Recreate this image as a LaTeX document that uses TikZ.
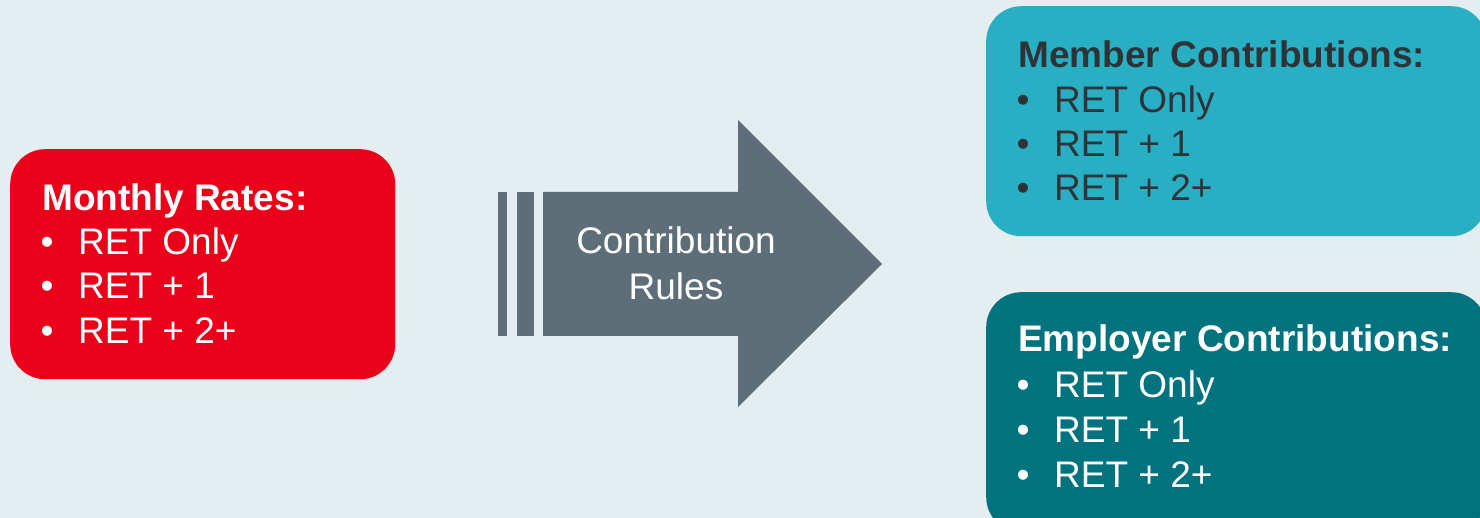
\documentclass[tikz,border=0pt]{standalone}
\usepackage{fontspec}
\setmainfont{Liberation Sans}
\definecolor{bg}{HTML}{E4EDEF}
\definecolor{ratered}{HTML}{EB001A}
\definecolor{slate}{HTML}{5E6E78}
\definecolor{memberteal}{HTML}{29AFC3}
\definecolor{deepteal}{HTML}{00737F}
\definecolor{ink}{HTML}{2E3338}
\begin{document}
\begin{tikzpicture}[x=1pt,y=-1pt,
  panel/.style={rectangle, rounded corners=35pt, draw=none, inner sep=0pt, anchor=north west},
  txt/.style={inner sep=0pt, font=\fontsize{37}{44}\selectfont},
  head/.style={txt, anchor=base west, font=\fontsize{37}{44}\selectfont\bfseries},
  item/.style={txt, anchor=base west},
  dot/.style={txt, anchor=base}]
% canvas
\fill[bg] (0,0) rectangle (1480,518);
\useasboundingbox (0,0) rectangle (1480,518);

% left panel: monthly rates
\node[panel, fill=ratered, minimum width=385pt, minimum height=230pt] (rates) at (10,149) {};
\node[head, white] (ratesH) at (42,211) {Monthly Rates:};
\foreach \y/\t [count=\i] in {255/RET Only, 299/RET + 1, 344/RET + 2+}{
  \node[dot, white] (ratesB\i) at (47,\y) {\textbullet};
  \node[item, white] (ratesI\i) at (78,\y) {\t};
}

% central block arrow with trailing bars
\fill[slate] (498,192) rectangle (507,336);
\fill[slate] (517,192) rectangle (534,336);
\fill[slate] (543,192) -- (738,192) -- (738,120) -- (882,264) -- (738,407) -- (738,336) -- (543,336) -- cycle;
\node[txt, anchor=base, white] (rulesA) at (676,254) {Contribution};
\node[txt, anchor=base, white] (rulesB) at (676,300) {Rules};

% upper right panel: member contributions
\node[panel, fill=memberteal, minimum width=500pt, minimum height=230pt] (member) at (986,6) {};
\node[head, ink] (memberH) at (1018,68) {Member Contributions:};
\foreach \y/\t [count=\i] in {113/RET Only, 157/RET + 1, 201/RET + 2+}{
  \node[dot, ink] (memberB\i) at (1023,\y) {\textbullet};
  \node[item, ink] (memberI\i) at (1054,\y) {\t};
}

% lower right panel: employer contributions
\node[panel, fill=deepteal, minimum width=500pt, minimum height=240pt] (employer) at (986,292) {};
\node[head, white] (employerH) at (1018,352) {Employer Contributions:};
\foreach \y/\t [count=\i] in {397/RET Only, 442/RET + 1, 487/RET + 2+}{
  \node[dot, white] (employerB\i) at (1023,\y) {\textbullet};
  \node[item, white] (employerI\i) at (1054,\y) {\t};
}
\end{tikzpicture}
\end{document}
